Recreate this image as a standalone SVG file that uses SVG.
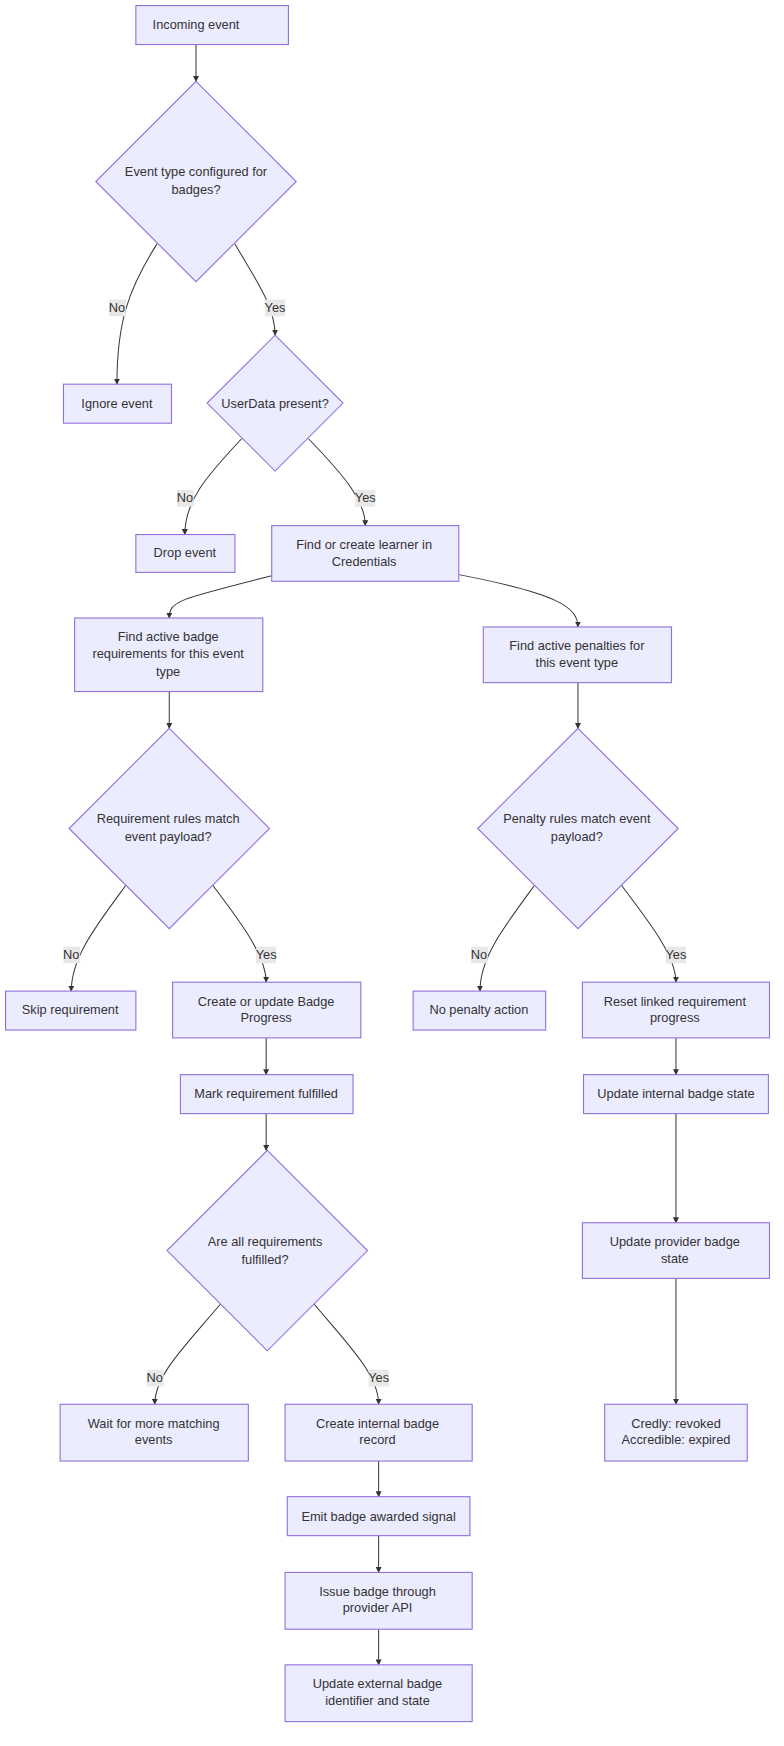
<svg xmlns="http://www.w3.org/2000/svg" width="784" height="1746" viewBox="0 0 784 1746">
<style>
.n{fill:#ECECFF;stroke:#9370DB;stroke-width:1}
.t{font-family:"Liberation Sans",Arial,sans-serif;font-size:11.5px;fill:#333;text-anchor:middle}
.e{fill:none;stroke:#333;stroke-width:0.9}
.lb{fill:#e8e8e8}
</style>
<defs><marker id="a" viewBox="0 0 10 10" refX="9" refY="5" markerWidth="6" markerHeight="6" orient="auto"><path d="M0,0L10,5L0,10z" fill="#333"/></marker></defs>
<rect width="784" height="1746" fill="#fff"/>
<g transform="scale(1.1136)">
<g id="edges">
<path class="e" marker-end="url(#a)" d="M176,40V73"/>
<path class="e" marker-end="url(#a)" d="M141,219C115,260 105,290 105,345"/>
<path class="e" marker-end="url(#a)" d="M211,219C230,252 247,275 247,301"/>
<path class="e" marker-end="url(#a)" d="M217,394C185,428 166,450 166,480"/>
<path class="e" marker-end="url(#a)" d="M277,394C310,428 328,450 328,472"/>
<path class="e" marker-end="url(#a)" d="M244,517C160,538 152,540 152,555"/>
<path class="e" marker-end="url(#a)" d="M412,516C500,533 519,545 519,563"/>
<path class="e" marker-end="url(#a)" d="M152,621V654"/>
<path class="e" marker-end="url(#a)" d="M519,613V654"/>
<path class="e" marker-end="url(#a)" d="M113,795C85,833 64,860 64,890"/>
<path class="e" marker-end="url(#a)" d="M191,795C220,833 239,860 239,882"/>
<path class="e" marker-end="url(#a)" d="M480,795C452,833 431,860 431,890"/>
<path class="e" marker-end="url(#a)" d="M558,795C587,833 607,860 607,882"/>
<path class="e" marker-end="url(#a)" d="M239,932V965"/>
<path class="e" marker-end="url(#a)" d="M239,1000V1033"/>
<path class="e" marker-end="url(#a)" d="M607,932V965"/>
<path class="e" marker-end="url(#a)" d="M607,1000V1098"/>
<path class="e" marker-end="url(#a)" d="M607,1148V1261"/>
<path class="e" marker-end="url(#a)" d="M198,1171C165,1210 139,1235 139,1261"/>
<path class="e" marker-end="url(#a)" d="M282,1171C315,1210 340,1235 340,1261"/>
<path class="e" marker-end="url(#a)" d="M340,1312V1344"/>
<path class="e" marker-end="url(#a)" d="M340,1379V1412"/>
<path class="e" marker-end="url(#a)" d="M340,1463V1495"/>
<g id="labels">
<rect class="lb" x="98" y="269" width="15" height="15"/><text class="t" x="105" y="280">No</text>
<rect class="lb" x="238" y="269" width="18" height="15"/><text class="t" x="247" y="280">Yes</text>
<rect class="lb" x="159" y="440" width="15" height="15"/><text class="t" x="166" y="451">No</text>
<rect class="lb" x="319" y="440" width="18" height="15"/><text class="t" x="328" y="451">Yes</text>
<rect class="lb" x="57" y="850" width="15" height="15"/><text class="t" x="64" y="861">No</text>
<rect class="lb" x="230" y="850" width="18" height="15"/><text class="t" x="239" y="861">Yes</text>
<rect class="lb" x="423" y="850" width="15" height="15"/><text class="t" x="430" y="861">No</text>
<rect class="lb" x="598" y="850" width="18" height="15"/><text class="t" x="607" y="861">Yes</text>
<rect class="lb" x="132" y="1230" width="15" height="15"/><text class="t" x="139" y="1241">No</text>
<rect class="lb" x="331" y="1230" width="18" height="15"/><text class="t" x="340" y="1241">Yes</text>
</g>
</g>
<g id="n1"><rect class="n" x="122" y="5" width="137" height="35"/><text class="t" x="176" y="26">Incoming event</text></g>
<g id="n2"><path class="n" d="M176,73L266,163L176,253L86,163z"/><text class="t" x="176" y="158">Event type configured for</text><text class="t" x="176" y="174">badges?</text></g>
<g id="n3"><rect class="n" x="57" y="345" width="97" height="35"/><text class="t" x="105" y="366">Ignore event</text></g>
<g id="n4"><path class="n" d="M247,301L308,362L247,423L186,362z"/><text class="t" x="247" y="366">UserData present?</text></g>
<g id="n5"><rect class="n" x="122" y="480" width="89" height="34"/><text class="t" x="166" y="500">Drop event</text></g>
<g id="n6"><rect class="n" x="244" y="472" width="168" height="50"/><text class="t" x="327" y="493">Find or create learner in</text><text class="t" x="327" y="508">Credentials</text></g>
<g id="n7"><rect class="n" x="67" y="555" width="169" height="66"/><text class="t" x="151" y="576">Find active badge</text><text class="t" x="151" y="591">requirements for this event</text><text class="t" x="151" y="607">type</text></g>
<g id="n8"><rect class="n" x="434" y="563" width="169" height="50"/><text class="t" x="518" y="584">Find active penalties for</text><text class="t" x="518" y="599">this event type</text></g>
<g id="n9"><path class="n" d="M152,654L242,744L152,834L62,744z"/><text class="t" x="151" y="739">Requirement rules match</text><text class="t" x="151" y="755">event payload?</text></g>
<g id="n10"><path class="n" d="M519,654L609,744L519,834L429,744z"/><text class="t" x="518" y="739">Penalty rules match event</text><text class="t" x="518" y="755">payload?</text></g>
<g id="n11"><rect class="n" x="5" y="890" width="117" height="35"/><text class="t" x="63" y="911">Skip requirement</text></g>
<g id="n12"><rect class="n" x="155" y="882" width="169" height="50"/><text class="t" x="239" y="903">Create or update Badge</text><text class="t" x="239" y="918">Progress</text></g>
<g id="n13"><rect class="n" x="371" y="890" width="119" height="35"/><text class="t" x="430" y="911">No penalty action</text></g>
<g id="n14"><rect class="n" x="523" y="882" width="168" height="50"/><text class="t" x="606" y="903">Reset linked requirement</text><text class="t" x="606" y="918">progress</text></g>
<g id="n15"><rect class="n" x="162" y="965" width="155" height="35"/><text class="t" x="239" y="986">Mark requirement fulfilled</text></g>
<g id="n16"><rect class="n" x="524" y="965" width="166" height="35"/><text class="t" x="607" y="986">Update internal badge state</text></g>
<g id="n17"><path class="n" d="M240,1033L330,1123L240,1213L150,1123z"/><text class="t" x="238" y="1119">Are all requirements</text><text class="t" x="238" y="1135">fulfilled?</text></g>
<g id="n18"><rect class="n" x="523" y="1098" width="168" height="50"/><text class="t" x="606" y="1119">Update provider badge</text><text class="t" x="606" y="1134">state</text></g>
<g id="n19"><rect class="n" x="54" y="1261" width="169" height="51"/><text class="t" x="138" y="1282">Wait for more matching</text><text class="t" x="138" y="1297">events</text></g>
<g id="n20"><rect class="n" x="256" y="1261" width="168" height="51"/><text class="t" x="339" y="1282">Create internal badge</text><text class="t" x="339" y="1297">record</text></g>
<g id="n21"><rect class="n" x="543" y="1261" width="128" height="51"/><text class="t" x="607" y="1282">Credly: revoked</text><text class="t" x="607" y="1297">Accredible: expired</text></g>
<g id="n22"><rect class="n" x="258" y="1344" width="164" height="35"/><text class="t" x="340" y="1366">Emit badge awarded signal</text></g>
<g id="n23"><rect class="n" x="256" y="1412" width="168" height="51"/><text class="t" x="339" y="1433">Issue badge through</text><text class="t" x="339" y="1448">provider API</text></g>
<g id="n24"><rect class="n" x="256" y="1495" width="168" height="51"/><text class="t" x="339" y="1516">Update external badge</text><text class="t" x="339" y="1531">identifier and state</text></g>
</g>
</svg>
